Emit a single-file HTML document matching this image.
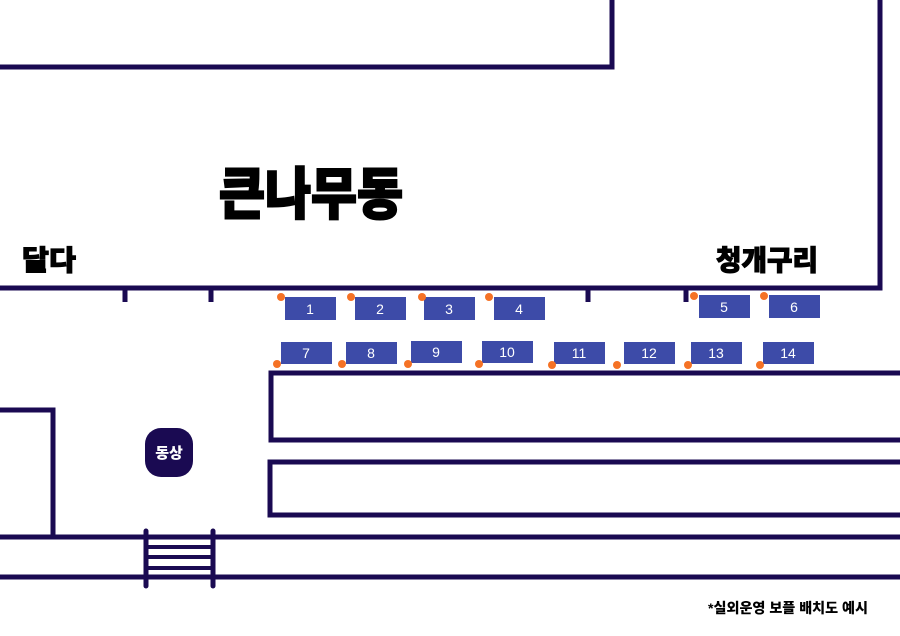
<!DOCTYPE html>
<html><head><meta charset="utf-8"><style>
html,body{margin:0;padding:0;background:#fff;width:900px;height:636px;overflow:hidden}
text{font-family:"Liberation Sans","Noto Sans CJK KR","NanumGothic",sans-serif;font-weight:900}
</style></head><body>
<svg width="900" height="636" viewBox="0 0 900 636" xmlns="http://www.w3.org/2000/svg">
<g stroke="#1a0a52" stroke-width="5" fill="none">
<polyline points="612,0 612,67 0,67"/>
<polyline points="880,0 880,288 0,288"/>
<line x1="125" y1="288" x2="125" y2="302"/>
<line x1="211" y1="288" x2="211" y2="302"/>
<line x1="588" y1="288" x2="588" y2="302"/>
<line x1="686" y1="288" x2="686" y2="302"/>
<polyline points="900,373 271,373 271,440 900,440"/>
<polyline points="900,462 270,462 270,515 900,515"/>
<polyline points="0,410 53,410 53,537"/>
<line x1="0" y1="537" x2="900" y2="537"/>
<line x1="0" y1="577" x2="900" y2="577"/>
<line x1="146" y1="531" x2="146" y2="586" stroke-linecap="round"/>
<line x1="213" y1="531" x2="213" y2="586" stroke-linecap="round"/>
<line x1="146" y1="547" x2="213" y2="547" stroke-width="4"/>
<line x1="146" y1="557" x2="213" y2="557" stroke-width="4"/>
<line x1="146" y1="568" x2="213" y2="568" stroke-width="4"/>
</g>
<g fill="#3d4ba8">
<rect x="285" y="297" width="51" height="23"/><rect x="355" y="297" width="51" height="23"/>
<rect x="424" y="297" width="51" height="23"/><rect x="494" y="297" width="51" height="23"/>
<rect x="699" y="295" width="51" height="23"/><rect x="769" y="295" width="51" height="23"/>
<rect x="281" y="342" width="51" height="22"/><rect x="346" y="342" width="51" height="22"/>
<rect x="411" y="341" width="51" height="22"/><rect x="482" y="341" width="51" height="22"/>
<rect x="554" y="342" width="51" height="22"/><rect x="624" y="342" width="51" height="22"/>
<rect x="691" y="342" width="51" height="22"/><rect x="763" y="342" width="51" height="22"/>
</g>
<g fill="#fff" font-size="14" text-anchor="middle">
<text x="310" y="314" style="font-weight:normal">1</text><text x="380" y="314" style="font-weight:normal">2</text>
<text x="449" y="314" style="font-weight:normal">3</text><text x="519" y="314" style="font-weight:normal">4</text>
<text x="724" y="312" style="font-weight:normal">5</text><text x="794" y="312" style="font-weight:normal">6</text>
<text x="306" y="358" style="font-weight:normal">7</text><text x="371" y="358" style="font-weight:normal">8</text>
<text x="436" y="357" style="font-weight:normal">9</text><text x="507" y="357" style="font-weight:normal">10</text>
<text x="579" y="358" style="font-weight:normal">11</text><text x="649" y="358" style="font-weight:normal">12</text>
<text x="716" y="358" style="font-weight:normal">13</text><text x="788" y="358" style="font-weight:normal">14</text>
</g>
<g fill="#f57225">
<circle cx="281" cy="297" r="4"/><circle cx="351" cy="297" r="4"/><circle cx="422" cy="297" r="4"/>
<circle cx="489" cy="297" r="4"/><circle cx="694" cy="296" r="4"/><circle cx="764" cy="296" r="4"/>
<circle cx="277" cy="364" r="4"/><circle cx="342" cy="364" r="4"/><circle cx="408" cy="364" r="4"/>
<circle cx="479" cy="364" r="4"/><circle cx="552" cy="365" r="4"/><circle cx="617" cy="365" r="4"/>
<circle cx="688" cy="365" r="4"/><circle cx="760" cy="365" r="4"/>
</g>
<rect x="145" y="428" width="48" height="49" rx="16" fill="#1a0a52"/>
<text x="169" y="458" fill="#fff" font-size="15" text-anchor="middle">동상</text>
<text x="219" y="214" fill="#000" font-size="56" textLength="184" lengthAdjust="spacingAndGlyphs" stroke="#000" stroke-width="2">큰나무동</text>
<text x="22" y="270" fill="#000" font-size="28" textLength="54" lengthAdjust="spacingAndGlyphs" stroke="#000" stroke-width="1">달다</text>
<text x="716" y="270" fill="#000" font-size="28" textLength="102" lengthAdjust="spacingAndGlyphs" stroke="#000" stroke-width="1">청개구리</text>
<text x="708" y="613" fill="#000" font-size="14" textLength="160" lengthAdjust="spacingAndGlyphs">*실외운영 보플 배치도 예시</text>
</svg>
</body></html>
